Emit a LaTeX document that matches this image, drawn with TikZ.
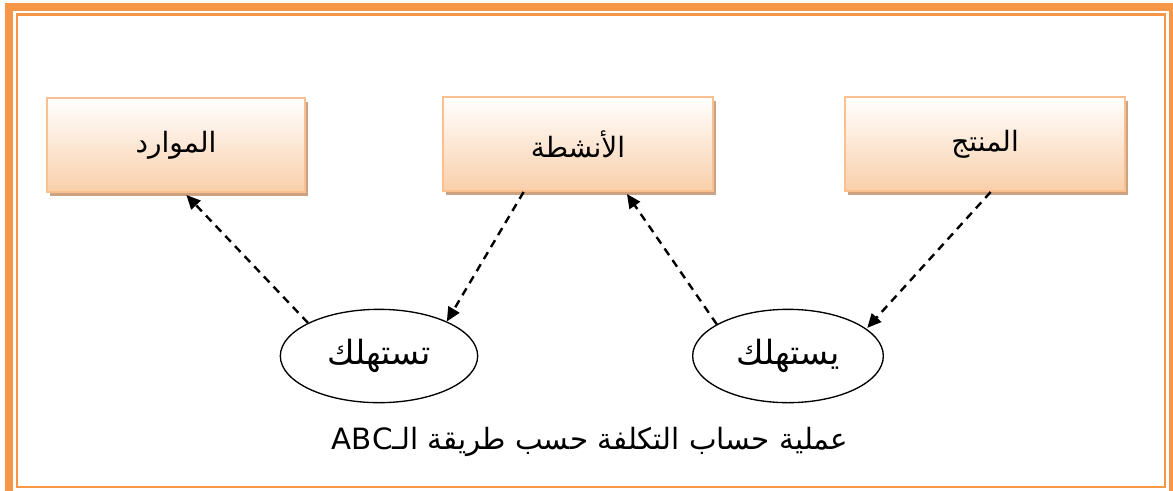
\documentclass[tikz,border=0pt]{standalone}
\usepackage{fontspec}
\usepackage{tikz}
\usetikzlibrary{arrows.meta}
\usetikzlibrary{calc}
\usetikzlibrary{shadows}
\usetikzlibrary{shapes.geometric}
\newfontfamily\arabicfont[Script=Arabic]{DejaVu Sans}
\TeXXeTstate=1
\definecolor{framec}{HTML}{F79646}
\definecolor{boxedge}{HTML}{FAC090}
\definecolor{boxpeach}{HTML}{F9CFAA}
\definecolor{shadowtan}{HTML}{CBA383}
\tikzset{
	stage/.style={draw=boxedge, line width=1.5pt, top color=white, bottom color=boxpeach,
		minimum height=70.5pt, inner sep=0pt,
		drop shadow={shadow xshift=2.5pt, shadow yshift=-3pt, fill=shadowtan, opacity=1},
		font=\arabicfont\fontsize{21}{25}\selectfont},
	consume/.style={draw, ellipse, line width=1pt, minimum width=148pt, minimum height=70pt,
		inner sep=0pt, font=\arabicfont\fontsize{25}{29}\selectfont},
	flow/.style={-{Triangle[length=10.5pt, width=9.5pt]}, line width=1.8pt, dash pattern=on 6pt off 4.5pt}
}
\begin{document}
\begin{tikzpicture}[x=0.75pt, y=-0.75pt]
		\useasboundingbox (0,0) rectangle (1173,490);
		\clip (0,0) rectangle (1173,490);
		% double frame
		\draw[framec, line width=6pt] (9,7) rectangle (1173,495);
		\draw[framec, line width=1.9pt] (17,14.5) rectangle (1165,487);

		\node[stage, minimum width=193.5pt] (resources) at (176,145) {\beginR الموارد\endR};
		\node[stage, minimum width=202.5pt] (activities) at (578,144) {\beginR الأنشطة\endR};
		\node[stage, minimum width=210pt] (product) at (985,144) {\beginR المنتج\endR};

		\node[consume] (consumeA) at (379,356) {\beginR تستهلك\endR};
		\node[consume, minimum width=143pt] (consumeP) at (788,356) {\beginR يستهلك\endR};

		\node[font=\arabicfont\fontsize{22}{26}\selectfont] (caption) at (590,442)
			{\beginR عملية حساب التكلفة حسب طريقة الـ\beginL ABC\endL\endR};

		\draw (consumeA.155) edge[flow] ($(resources.south west)!0.54!(resources.south east)+(0,2)$);
		\draw ($(activities.south west)!0.30!(activities.south east)$) edge[flow] (consumeA.27);
		\draw (consumeP.156) edge[flow] ($(activities.south west)!0.68!(activities.south east)+(0,2)$);
		\draw ($(product.south west)!0.52!(product.south east)$) edge[flow] ($(consumeP.20)+(2,0)$);
	\end{tikzpicture}
\end{document}
